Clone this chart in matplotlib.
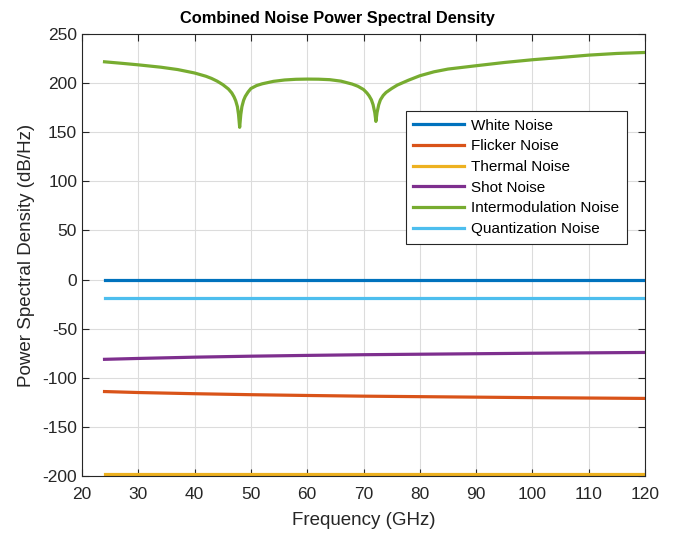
import numpy as np
import matplotlib
matplotlib.use('Agg')
import matplotlib.pyplot as plt

plt.rcParams['font.family'] = ['Liberation Sans', 'DejaVu Sans']
plt.rcParams['axes.unicode_minus'] = False

# frequency grid for the straight-ish lines (GHz)
freq = [24, 30, 40, 50, 60, 70, 80, 90, 100, 110, 120]

white = [0] * len(freq)
flicker = [-114.0, -115.0, -116.2, -117.2, -118.0, -118.7, -119.2, -119.7, -120.2, -120.6, -121.0]
thermal = [-197.6] * len(freq)
shot = [-81.2, -80.3, -79.0, -78.0, -77.2, -76.5, -76.0, -75.5, -75.0, -74.6, -74.2]
quant = [-18.7] * len(freq)

# intermodulation noise (denser near the two notches)
imd_freq = [24, 27, 30, 34, 37, 40, 42, 43, 44, 45, 46, 46.6, 47, 47.3, 47.6, 47.8, 48.0,
            48.2, 48.4, 48.7, 49, 49.5, 50, 51, 52, 54, 56, 58, 60, 62, 64, 66, 68, 69, 70,
            70.6, 71, 71.4, 71.7, 72.0, 72.2, 72.4, 72.7, 73.0, 73.5, 74, 75, 76, 78, 80,
            82.5, 85, 90, 95, 100, 105, 110, 115, 120]
imd = [221.7, 220.2, 218.6, 216.2, 213.8, 210.3, 207.0, 204.8, 202.0, 198.5, 194.0, 190.0,
       186.0, 182.0, 176.0, 168.0, 155.0, 168.0, 176.0, 182.5, 186.5, 191.0, 194.5, 197.5,
       199.3, 201.8, 203.2, 203.9, 204.1, 204.0, 203.5, 202.0, 199.0, 196.8, 193.5, 190.0,
       187.0, 183.0, 178.0, 170.0, 161.0, 170.0, 178.0, 183.0, 187.5, 190.5, 194.5, 198.0,
       203.0, 207.5, 211.5, 214.3, 217.7, 221.0, 223.8, 226.1, 228.5, 230.2, 231.2]

fig = plt.figure(figsize=(6.75, 5.33), dpi=100)
ax = fig.add_axes([0.1215, 0.1069, 0.8341, 0.8293])

lw = 2.3
ax.plot(freq, white, color='#0072BD', lw=lw, label='White Noise')
ax.plot(freq, flicker, color='#D95319', lw=lw, label='Flicker Noise')
ax.plot(freq, thermal, color='#EDB120', lw=lw, label='Thermal Noise')
ax.plot(freq, shot, color='#7E2F8E', lw=lw, label='Shot Noise')
ax.plot(imd_freq, imd, color='#77AC30', lw=lw, label='Intermodulation Noise')
ax.plot(freq, quant, color='#4DBEEE', lw=lw, label='Quantization Noise')

ax.set_xlim(20, 120)
ax.set_ylim(-200, 250)
ax.set_xticks(np.arange(20, 121, 10))
ax.set_yticks(np.arange(-200, 251, 50))
ax.grid(True, color='#dcdcdc', lw=0.8)
ax.set_axisbelow(True)
ax.tick_params(direction='in', top=True, right=True, length=5, labelsize=12.5,
               colors='#262626', width=0.8)
ax.tick_params(axis='x', pad=8)
for s in ax.spines.values():
    s.set_color('#262626')
    s.set_linewidth(0.8)

fig.text(0.5, 0.965, 'Combined Noise Power Spectral Density', fontsize=11.8,
         fontweight='bold', ha='center', va='center')
ax.set_xlabel('Frequency (GHz)', fontsize=13.5, color='#262626', labelpad=7)
ax.set_ylabel('Power Spectral Density (dB/Hz)', fontsize=13.5, color='#262626', labelpad=5)

leg = ax.legend(loc='upper right', bbox_to_anchor=(0.968, 0.826), fontsize=11,
                fancybox=False, framealpha=1, edgecolor='#262626', handlelength=3.3,
                labelspacing=0.44, borderpad=0.5, handletextpad=0.5, borderaxespad=0)
leg.get_frame().set_linewidth(0.8)

fig.savefig('out.png', dpi=100)
